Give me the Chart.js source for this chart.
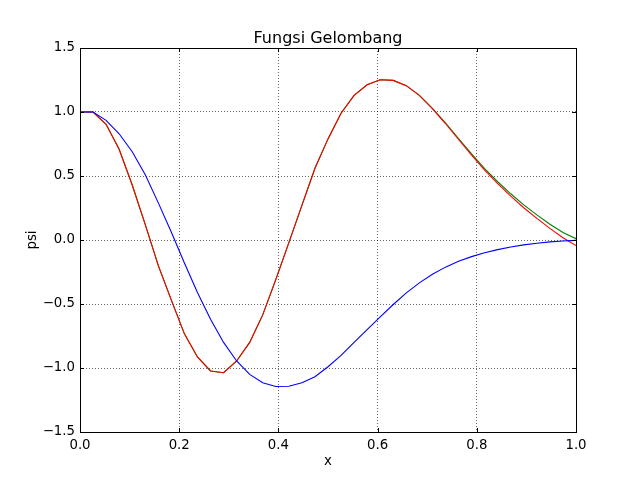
<!DOCTYPE html>
<html>
<head>
<meta charset="utf-8">
<script src="https://cdn.jsdelivr.net/npm/chart.js@4.4.0/dist/chart.umd.min.js"></script>
<style>
  html, body { margin: 0; padding: 0; background: #fff; }
</style>
</head>
<body>
<canvas id="grafikGelombang" width="640" height="480"></canvas>
<script>
// titik x (39 titik dari 0 sampai 1)
const nilaiX = [0, 0.0263, 0.0526, 0.0789, 0.1053, 0.1316, 0.1579, 0.1842, 0.2105, 0.2368,
  0.2632, 0.2895, 0.3158, 0.3421, 0.3684, 0.3947, 0.4211, 0.4474, 0.4737, 0.5,
  0.5263, 0.5526, 0.5789, 0.6053, 0.6316, 0.6579, 0.6842, 0.7105, 0.7368, 0.7632,
  0.7895, 0.8158, 0.8421, 0.8684, 0.8947, 0.9211, 0.9474, 0.9737, 1.0];

const psiBiru = [1.0, 1.0, 0.935, 0.83, 0.69, 0.51, 0.29, 0.06, -0.18, -0.41,
  -0.62, -0.80, -0.945, -1.05, -1.115, -1.145, -1.143, -1.115, -1.068, -0.99,
  -0.902, -0.80, -0.70, -0.60, -0.504, -0.413, -0.335, -0.268, -0.212, -0.166,
  -0.13, -0.10, -0.075, -0.055, -0.038, -0.025, -0.015, -0.008, -0.003];

const psiHijau = [1.0, 1.0, 0.904, 0.709, 0.43, 0.12, -0.20, -0.47, -0.733, -0.914,
  -1.023, -1.037, -0.945, -0.80, -0.585, -0.31, -0.02, 0.27, 0.56, 0.79,
  0.99, 1.13, 1.213, 1.252, 1.247, 1.206, 1.13, 1.029, 0.915, 0.793,
  0.673, 0.558, 0.455, 0.361, 0.274, 0.196, 0.123, 0.058, 0.01];

const psiMerah = [1.0, 1.0, 0.904, 0.709, 0.43, 0.12, -0.20, -0.47, -0.733, -0.914,
  -1.023, -1.037, -0.945, -0.80, -0.585, -0.31, -0.02, 0.27, 0.56, 0.79,
  0.99, 1.13, 1.213, 1.252, 1.247, 1.206, 1.13, 1.026, 0.91, 0.785,
  0.663, 0.546, 0.44, 0.343, 0.252, 0.169, 0.091, 0.018, -0.044];

const tickX = [0, 0.2, 0.4, 0.6, 0.8, 1.0];
const tickY = [-1.5, -1.0, -0.5, 0, 0.5, 1.0, 1.5];

const huruf = 'DejaVu Sans';

function pasangan(ys) {
  return nilaiX.map((x, i) => ({ x: x, y: ys[i] }));
}

// bingkai kotak + tick ke dalam seperti matplotlib
const bingkai = {
  id: 'bingkai',
  afterDraw(chart) {
    const { ctx, chartArea: a, scales } = chart;
    ctx.save();
    ctx.strokeStyle = '#000';
    ctx.lineWidth = 1;
    ctx.beginPath();
    tickX.forEach(v => {
      const px = Math.round(scales.x.getPixelForValue(v)) + 0.5;
      ctx.moveTo(px, a.bottom); ctx.lineTo(px, a.bottom - 4);
      ctx.moveTo(px, a.top); ctx.lineTo(px, a.top + 4);
    });
    tickY.forEach(v => {
      const py = Math.round(scales.y.getPixelForValue(v)) + 0.5;
      ctx.moveTo(a.left, py); ctx.lineTo(a.left + 4, py);
      ctx.moveTo(a.right, py); ctx.lineTo(a.right - 4, py);
    });
    ctx.stroke();
    ctx.strokeRect(a.left + 0.5, a.top + 0.5, a.right - a.left, a.bottom - a.top);
    ctx.restore();
  }
};

const kontek = document.getElementById('grafikGelombang').getContext('2d');

new Chart(kontek, {
  type: 'line',
  data: {
    datasets: [
      { data: pasangan(psiMerah), borderColor: '#ff0000', borderWidth: 1.1, order: 1 },
      { data: pasangan(psiHijau), borderColor: '#008000', borderWidth: 1.1, order: 2 },
      { data: pasangan(psiBiru), borderColor: '#0000ff', borderWidth: 1.1, order: 0 }
    ]
  },
  options: {
    responsive: false,
    animation: false,
    devicePixelRatio: 1,
    elements: { point: { radius: 0 }, line: { tension: 0, fill: false } },
    layout: { padding: { left: 0, right: 64, top: 0, bottom: 0 } },
    plugins: {
      legend: { display: false },
      tooltip: { enabled: false },
      title: {
        display: true,
        fullSize: false,
        text: 'Fungsi Gelombang',
        color: '#000',
        font: { family: huruf, size: 16, weight: 'normal', lineHeight: 1.15 },
        padding: { top: 29.6, bottom: 0 }
      }
    },
    scales: {
      x: {
        type: 'linear',
        min: 0,
        max: 1,
        afterBuildTicks: s => { s.ticks = tickX.map(v => ({ value: v })); },
        afterFit: s => { s.height = 48; },
        ticks: {
          color: '#000',
          font: { family: huruf, size: 13.3 },
          padding: 6,
          maxRotation: 0,
          callback: v => v.toFixed(1)
        },
        grid: { color: 'rgba(0,0,0,0.6)', lineWidth: 1, drawTicks: false },
        border: { display: false, dash: [1, 2] },
        title: {
          display: true,
          text: 'x',
          color: '#000',
          font: { family: huruf, size: 13.3, lineHeight: 1.2 },
          padding: { top: 4, bottom: 10 }
        }
      },
      y: {
        type: 'linear',
        min: -1.5,
        max: 1.5,
        afterBuildTicks: s => { s.ticks = tickY.map(v => ({ value: v })); },
        afterFit: s => { s.width = 80; },
        ticks: {
          color: '#000',
          font: { family: huruf, size: 13.3 },
          padding: 5,
          callback: v => v.toFixed(1).replace('-', '\u2212')
        },
        grid: { color: 'rgba(0,0,0,0.6)', lineWidth: 1, drawTicks: false },
        border: { display: false, dash: [1, 2] },
        title: {
          display: true,
          text: 'psi',
          color: '#000',
          font: { family: huruf, size: 13.3, lineHeight: 1.2 },
          padding: { top: 25, bottom: 0 }
        }
      }
    }
  },
  plugins: [bingkai]
});
</script>
</body>
</html>
